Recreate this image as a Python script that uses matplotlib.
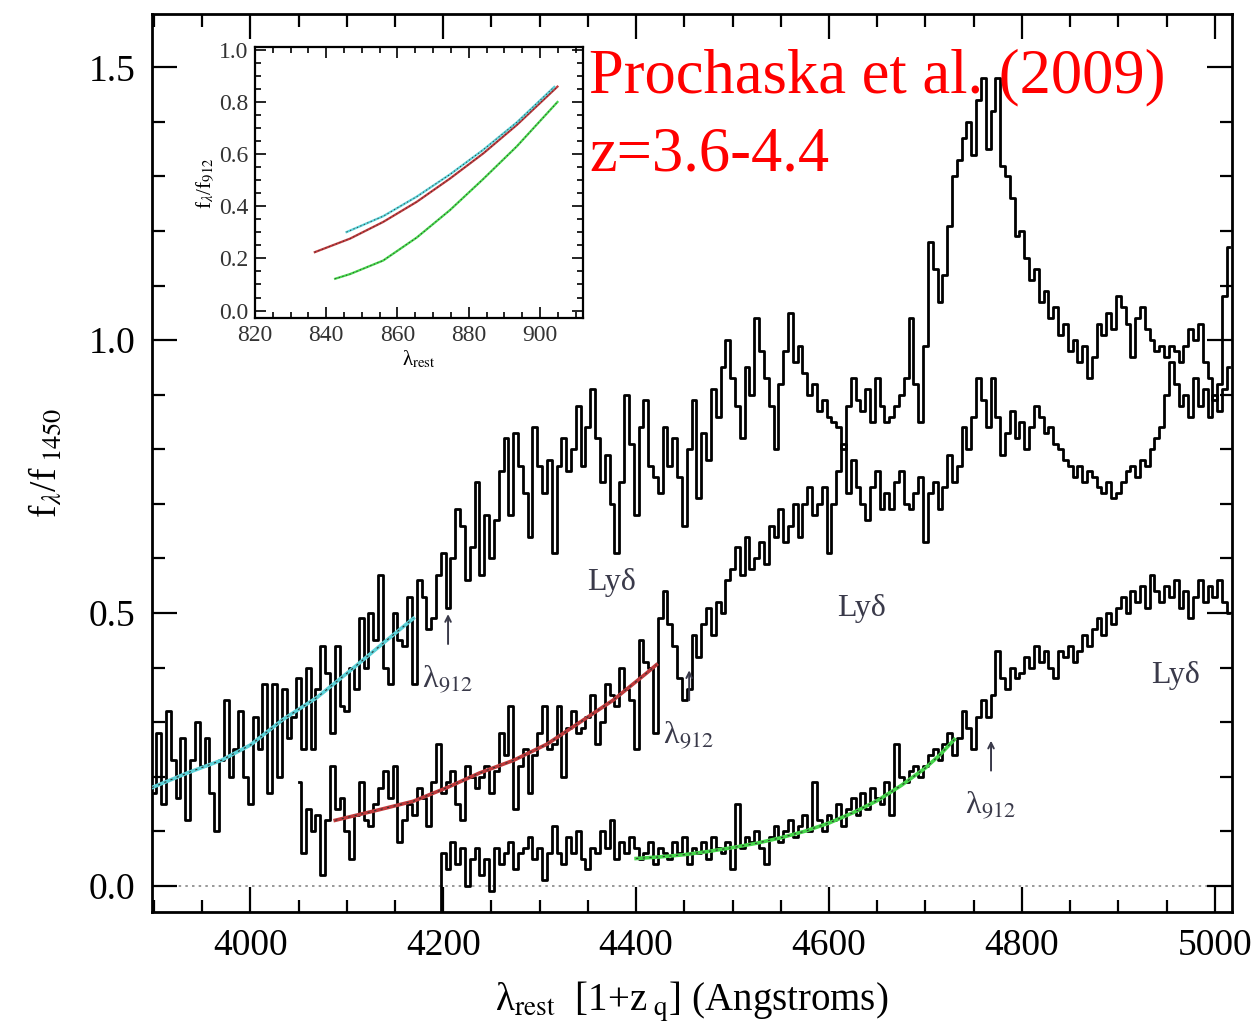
import numpy as np
import matplotlib
matplotlib.use("Agg")
import matplotlib.pyplot as plt
from matplotlib.ticker import MultipleLocator

plt.rcParams["font.family"] = ["Liberation Serif", "DejaVu Serif"]
plt.rcParams["mathtext.fontset"] = "stix"

# rest-frame stacked spectra, 5 A bins
step = 5.0

top_start = 3900.0
top_flux = [
    0.17, 0.28, 0.15, 0.32, 0.23, 0.16, 0.27, 0.12, 0.23, 0.30,
    0.22, 0.27, 0.17, 0.10, 0.23, 0.34, 0.20, 0.25, 0.32, 0.20,
    0.15, 0.31, 0.25, 0.37, 0.17, 0.37, 0.20, 0.36, 0.27, 0.31,
    0.38, 0.25, 0.40, 0.25, 0.36, 0.44, 0.39, 0.28, 0.44, 0.33,
    0.32, 0.40, 0.36, 0.49, 0.40, 0.50, 0.45, 0.57, 0.40, 0.37,
    0.50, 0.45, 0.44, 0.53, 0.37, 0.56, 0.53, 0.47, 0.49, 0.57,
    0.61, 0.51, 0.60, 0.69, 0.66, 0.56, 0.62, 0.74, 0.57, 0.68,
    0.60, 0.67, 0.76, 0.82, 0.68, 0.83, 0.77, 0.72, 0.64, 0.84,
    0.77, 0.72, 0.78, 0.61, 0.77, 0.82, 0.76, 0.80, 0.88, 0.77,
    0.84, 0.91, 0.82, 0.74, 0.79, 0.70, 0.61, 0.74, 0.90, 0.81,
    0.68, 0.84, 0.89, 0.77, 0.75, 0.72, 0.84, 0.77, 0.82, 0.75,
    0.66, 0.80, 0.89, 0.71, 0.83, 0.78, 0.91, 0.86, 0.95, 1.00,
    0.93, 0.88, 0.82, 0.95, 0.90, 1.04, 0.98, 0.93, 0.88, 0.80,
    0.92, 0.98, 1.05, 0.96, 0.99, 0.94, 0.90, 0.92, 0.87, 0.89,
    0.86, 0.85, 0.84, 0.80, 0.88, 0.93, 0.89, 0.87, 0.91, 0.85,
    0.93, 0.88, 0.85, 0.86, 0.88, 0.90, 0.93, 1.04, 0.92, 0.85,
    0.99, 1.18, 1.13, 1.07, 1.12, 1.21, 1.30, 1.33, 1.37, 1.40,
    1.34, 1.44, 1.48, 1.35, 1.42, 1.48, 1.32, 1.30, 1.26, 1.19,
    1.20, 1.15, 1.11, 1.13, 1.07, 1.09, 1.04, 1.06, 1.01, 1.03,
    0.98, 1.00, 0.96, 0.99, 0.93, 0.97, 1.03, 1.01, 1.05, 1.02,
    1.08, 1.06, 1.03, 0.97, 1.04, 1.06, 1.02, 1.00, 0.98, 0.99,
    0.97, 0.99, 0.98, 0.96, 0.99, 1.02, 1.00, 1.03, 0.96, 0.93,
    0.89, 0.92, 1.08, 1.17,
]

mid_start = 4050.0
mid_flux = [
    0.19, 0.06, 0.14, 0.10, 0.13, 0.02, 0.12, 0.22, 0.14, 0.16,
    0.10, 0.05, 0.13, 0.19, 0.12, 0.11, 0.15, 0.18, 0.21, 0.16,
    0.22, 0.08, 0.12, 0.15, 0.13, 0.18, 0.16, 0.11, 0.19, 0.26,
    0.17, 0.19, 0.21, 0.15, 0.12, 0.22, 0.20, 0.18, 0.20, 0.22,
    0.17, 0.21, 0.28, 0.24, 0.33, 0.14, 0.22, 0.25, 0.17, 0.24,
    0.28, 0.33, 0.25, 0.26, 0.33, 0.20, 0.29, 0.32, 0.28, 0.29,
    0.31, 0.35, 0.26, 0.30, 0.37, 0.35, 0.33, 0.40, 0.36, 0.34,
    0.25, 0.45, 0.41, 0.40, 0.28, 0.49, 0.54, 0.48, 0.44, 0.38,
    0.34, 0.36, 0.46, 0.42, 0.48, 0.51, 0.46, 0.52, 0.50, 0.56,
    0.58, 0.62, 0.57, 0.64, 0.58, 0.60, 0.63, 0.59, 0.66, 0.64,
    0.69, 0.63, 0.66, 0.70, 0.64, 0.70, 0.73, 0.68, 0.70, 0.73,
    0.61, 0.70, 0.76, 0.81, 0.72, 0.78, 0.73, 0.70, 0.67, 0.73,
    0.76, 0.69, 0.72, 0.69, 0.74, 0.76, 0.70, 0.69, 0.72, 0.75,
    0.63, 0.72, 0.74, 0.69, 0.73, 0.79, 0.74, 0.77, 0.84, 0.80,
    0.86, 0.93, 0.89, 0.84, 0.93, 0.86, 0.79, 0.83, 0.87, 0.82,
    0.85, 0.80, 0.84, 0.88, 0.86, 0.83, 0.84, 0.81, 0.80, 0.78,
    0.77, 0.75, 0.77, 0.74, 0.76, 0.75, 0.73, 0.72, 0.74, 0.71,
    0.72, 0.74, 0.76, 0.77, 0.75, 0.78, 0.77, 0.80, 0.82, 0.84,
    0.90, 0.96, 0.92, 0.88, 0.90, 0.86, 0.93, 0.88, 0.91, 0.86,
    0.90, 0.87, 0.91, 0.95,
]

low_start = 4195.0
low_flux = [
    -0.08, 0.06, 0.03, 0.08, 0.04, 0.07, 0.00, 0.05, 0.07, 0.02,
    0.05, -0.01, 0.07, 0.04, 0.06, 0.08, 0.03, 0.06, 0.07, 0.09,
    0.05, 0.07, 0.01, 0.06, 0.11, 0.06, 0.04, 0.09, 0.06, 0.10,
    0.05, 0.03, 0.07, 0.06, 0.10, 0.07, 0.12, 0.05, 0.08, 0.06,
    0.09, 0.07, 0.05, 0.06, 0.08, 0.04, 0.07, 0.06, 0.05, 0.08,
    0.06, 0.09, 0.04, 0.07, 0.06, 0.08, 0.05, 0.09, 0.07, 0.06,
    0.08, 0.03, 0.15, 0.07, 0.09, 0.08, 0.10, 0.07, 0.04, 0.09,
    0.11, 0.08, 0.10, 0.12, 0.09, 0.11, 0.13, 0.10, 0.19, 0.12,
    0.10, 0.13, 0.12, 0.15, 0.11, 0.14, 0.16, 0.13, 0.17, 0.14,
    0.18, 0.16, 0.15, 0.19, 0.13, 0.26, 0.20, 0.19, 0.21, 0.22,
    0.20, 0.22, 0.24, 0.25, 0.23, 0.26, 0.28, 0.24, 0.27, 0.32,
    0.29, 0.25, 0.31, 0.34, 0.31, 0.35, 0.43, 0.38, 0.36, 0.40,
    0.38, 0.39, 0.42, 0.40, 0.44, 0.41, 0.43, 0.40, 0.38, 0.43,
    0.42, 0.44, 0.41, 0.43, 0.46, 0.44, 0.47, 0.49, 0.46, 0.50,
    0.48, 0.51, 0.53, 0.50, 0.54, 0.52, 0.55, 0.51, 0.57, 0.54,
    0.52, 0.55, 0.53, 0.56, 0.51, 0.54, 0.49, 0.53, 0.56, 0.52,
    0.55, 0.53, 0.56, 0.52, 0.50,
]

# model continua blueward of the Lyman limit
cyan_wave = [3898, 3935, 3970, 4000, 4034, 4069, 4104, 4138, 4169]
cyan_flux = [0.180, 0.207, 0.230, 0.258, 0.305, 0.345, 0.395, 0.445, 0.490]
red_wave = [4088, 4135, 4169, 4204, 4238, 4273, 4308, 4342, 4376, 4411, 4421]
red_flux = [0.120, 0.140, 0.155, 0.180, 0.207, 0.230, 0.260, 0.300, 0.340, 0.390, 0.405]
green_wave = [4400, 4425, 4450, 4475, 4500, 4525, 4550, 4575, 4600, 4625,
              4650, 4675, 4700, 4715, 4730]
green_flux = [0.050, 0.053, 0.057, 0.063, 0.070, 0.078, 0.088, 0.100, 0.115, 0.134,
              0.156, 0.184, 0.216, 0.240, 0.268]

# inset: the same models normalised at 912 A
in_red_x = [836.8, 846.7, 856.0, 865.4, 874.7, 884.1, 893.5, 904.9]
in_red_y = [0.224, 0.276, 0.340, 0.417, 0.506, 0.603, 0.712, 0.859]
in_cyan_x = [845.7, 856.0, 865.4, 874.7, 884.1, 893.5, 904.0]
in_cyan_y = [0.301, 0.362, 0.437, 0.522, 0.617, 0.722, 0.858]
in_green_x = [842.5, 846.7, 856.0, 865.4, 874.7, 884.1, 893.5, 904.9]
in_green_y = [0.122, 0.140, 0.192, 0.280, 0.385, 0.505, 0.630, 0.800]

lyd_pos = [(4375, 0.555), (4634, 0.508), (4959, 0.386)]
lam912_x = [4204, 4454, 4767]
lam912_y = [0.378, 0.275, 0.146]

fit_colors = {"cyan": "#5ad2d8", "red": "#c0393b", "green": "#45d64a"}
note_color = "#3a3a4a"


def wave_grid(start, flux):
    return start + step * np.arange(len(flux))


fig = plt.figure(figsize=(12.56, 10.27), dpi=100)
ax = fig.add_axes([0.121, 0.112, 0.860, 0.874])

ax.axhline(0.0, color="#888888", lw=1.2, ls=(0, (1.5, 2.5)), zorder=1)

for start, flux in [(top_start, top_flux), (mid_start, mid_flux), (low_start, low_flux)]:
    ax.plot(wave_grid(start, flux), flux, drawstyle="steps-mid",
            color="black", lw=2.0, zorder=2)

for wx, wy, key in [(cyan_wave, cyan_flux, "cyan"), (red_wave, red_flux, "red"),
                    (green_wave, green_flux, "green")]:
    ax.plot(wx, wy, color=fit_colors[key], lw=2.6, zorder=3)
    ax.plot(wx, wy, color="#333333", lw=0.8, ls=(0, (2, 4)), zorder=4)

for x, y in lyd_pos:
    ax.text(x, y, "Lyδ", fontsize=23, color=note_color,
            ha="center", va="center")

for x, y in zip(lam912_x, lam912_y):
    ax.text(x, y, r"λ$_{912}$", fontsize=23, color=note_color,
            ha="center", va="center")
    ax.annotate("", xy=(x + 1, y + 0.125), xytext=(x + 1, y + 0.06),
                arrowprops=dict(arrowstyle="->", color=note_color, lw=1.4))

ax.set_xlim(3898, 5018)
ax.set_ylim(-0.048, 1.597)
ax.xaxis.set_major_locator(MultipleLocator(200))
ax.xaxis.set_minor_locator(MultipleLocator(50))
ax.yaxis.set_major_locator(MultipleLocator(0.5))
ax.yaxis.set_minor_locator(MultipleLocator(0.1))
ax.yaxis.set_major_formatter(plt.FuncFormatter(lambda v, p: f"{v:.1f}"))
ax.tick_params(which="both", direction="in", top=True, right=True,
               labelsize=27, width=1.6, pad=12)
ax.tick_params(which="major", length=18)
ax.tick_params(which="minor", length=9)
for sp in ax.spines.values():
    sp.set_linewidth(2)

ax.set_xlabel(r"λ$_{\rm rest}$  [1+z$_{\ \rm q}$] (Angstroms)",
              fontsize=28, labelpad=12)
ax.set_ylabel(r"f$_{\lambda}$/f$_{\ 1450}$", fontsize=27, labelpad=18)

ax.text(0.405, 0.930, "Prochaska et al. (2009)", transform=ax.transAxes,
        fontsize=45, color="red", ha="left", va="center")
ax.text(0.405, 0.843, "z=3.6-4.4", transform=ax.transAxes,
        fontsize=45, color="red", ha="left", va="center")

# inset
ins = fig.add_axes([0.203, 0.690, 0.261, 0.264])
for xs, ys, key in [(in_red_x, in_red_y, "red"), (in_cyan_x, in_cyan_y, "cyan"),
                    (in_green_x, in_green_y, "green")]:
    ins.plot(xs, ys, color=fit_colors[key], lw=1.6)
    ins.plot(xs, ys, color="#333333", lw=0.6, ls=(0, (1.5, 3)))
ins.set_xlim(820, 912)
ins.set_ylim(-0.03, 1.01)
ins.xaxis.set_major_locator(MultipleLocator(20))
ins.xaxis.set_minor_locator(MultipleLocator(5))
ins.yaxis.set_major_locator(MultipleLocator(0.2))
ins.yaxis.set_minor_locator(MultipleLocator(0.05))
ins.yaxis.set_major_formatter(plt.FuncFormatter(lambda v, p: f"{v:.1f}"))
ins.tick_params(which="both", direction="in", top=True, right=True,
                labelsize=17, width=1.2, pad=5, labelcolor="#333333")
ins.tick_params(which="major", length=8)
ins.tick_params(which="minor", length=4)
for sp in ins.spines.values():
    sp.set_linewidth(1.6)
ins.set_xlabel(r"λ$_{\rm rest}$", fontsize=15, labelpad=2)
ins.set_ylabel(r"f$_{\lambda}$/f$_{912}$", fontsize=15, labelpad=2)

fig.savefig("out.png", dpi=100)
